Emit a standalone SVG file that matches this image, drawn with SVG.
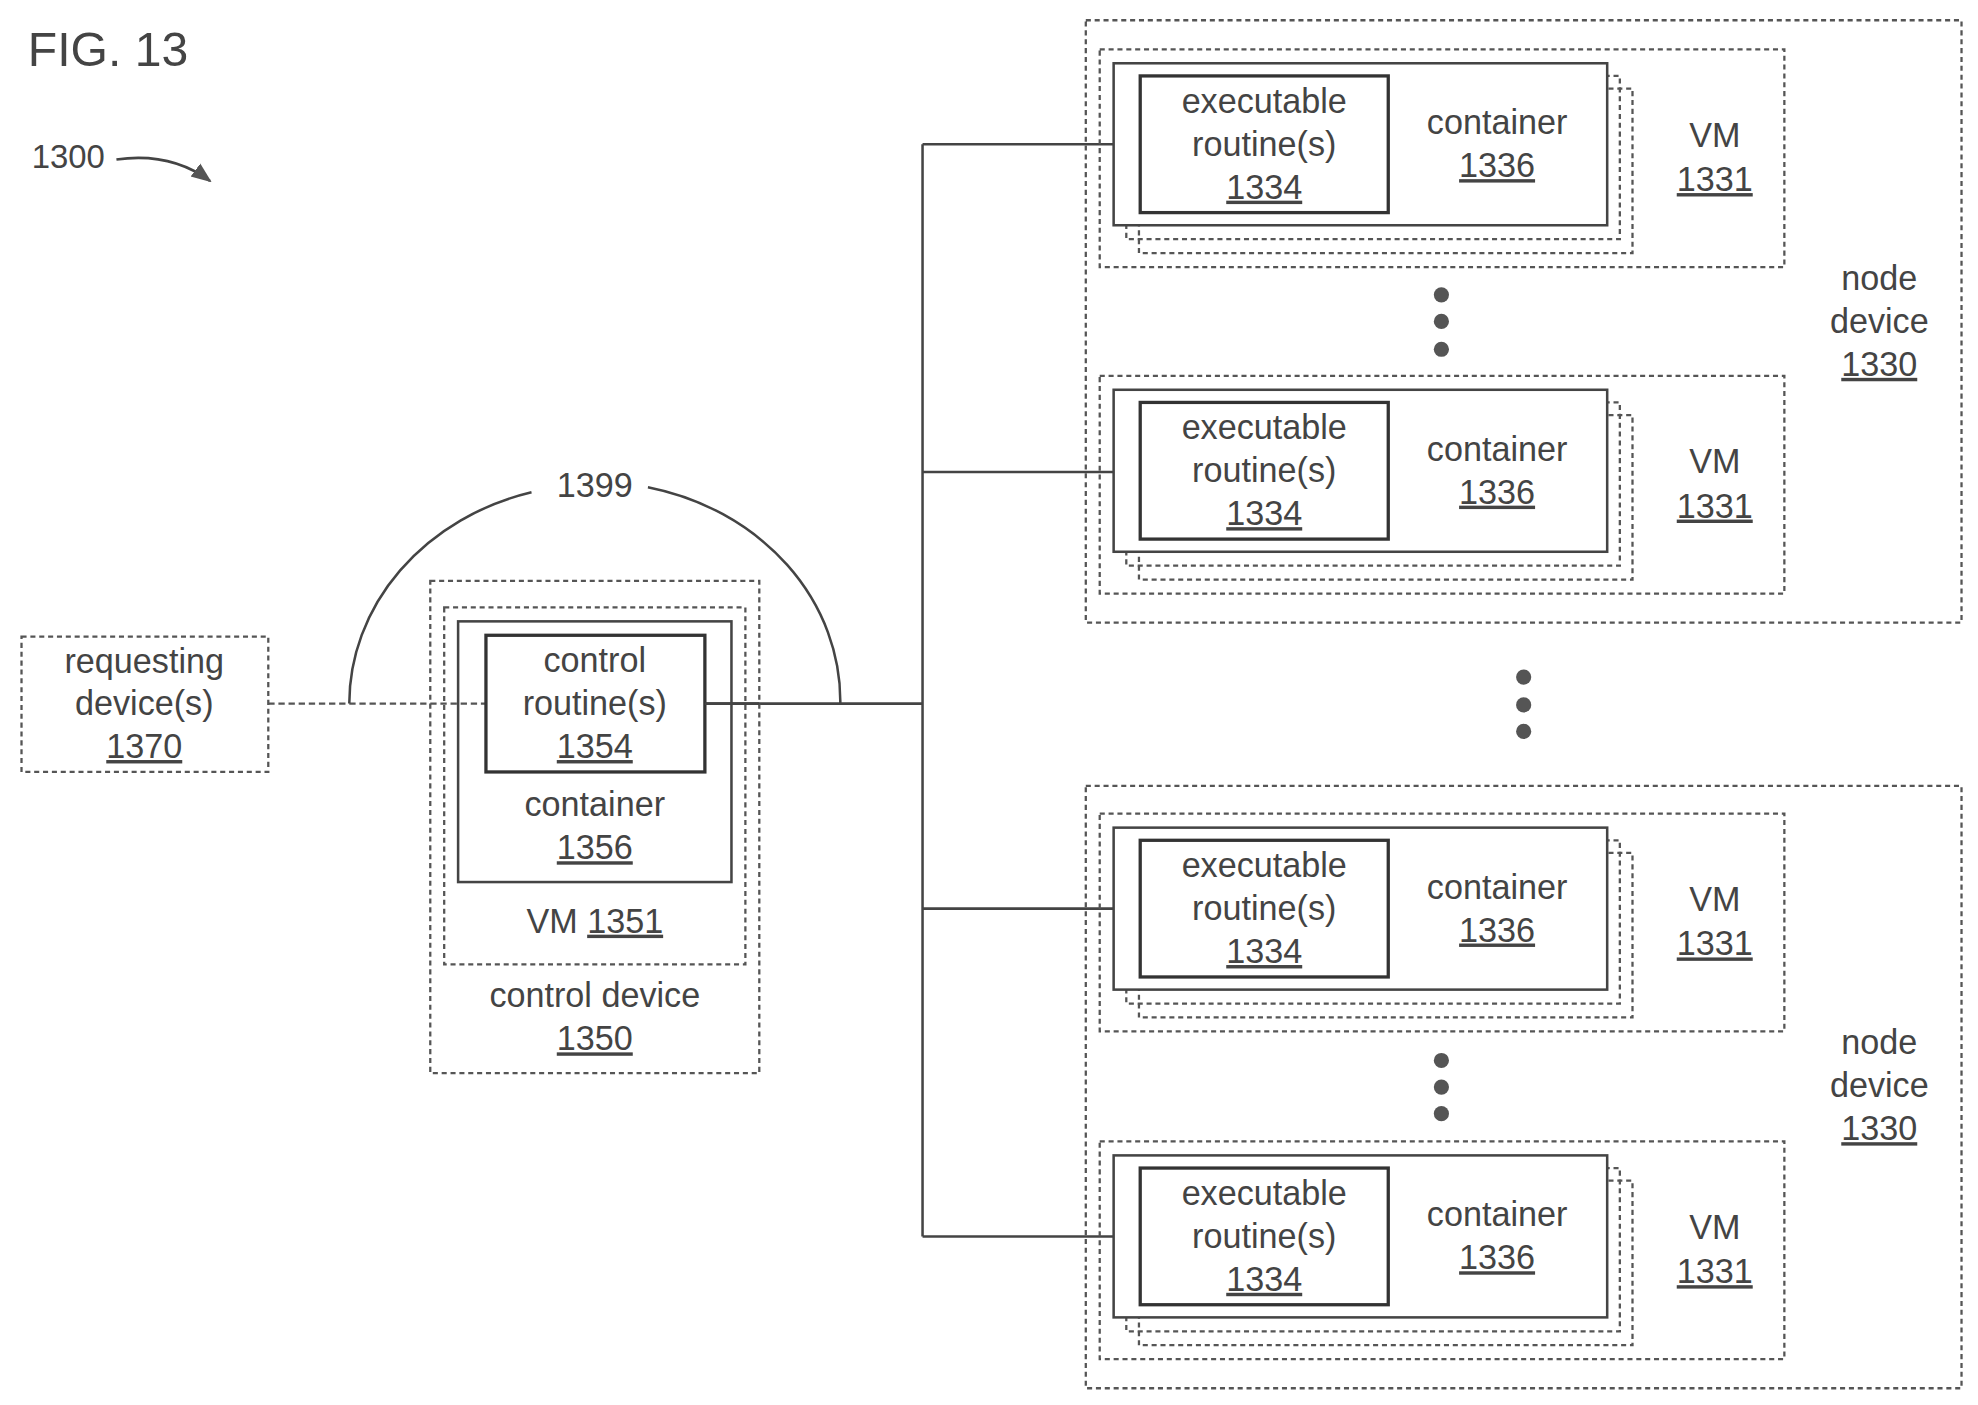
<svg xmlns="http://www.w3.org/2000/svg" width="1978" height="1405" viewBox="0 0 1978 1405">
<defs>
<style>
text{font-family:"Liberation Sans",Arial,sans-serif;font-size:27px;fill:#444;text-anchor:middle}
.d{fill:none;stroke:#555;stroke-width:1.8;stroke-dasharray:4 3}
.s{fill:#fff;stroke:#444;stroke-width:2}
.t{fill:#fff;stroke:#333;stroke-width:2.6}
.l{fill:none;stroke:#444;stroke-width:2}
.u{text-decoration:underline}
.dot{fill:#555}
</style>
<marker id="ah" viewBox="0 0 10 10" refX="9" refY="5" markerWidth="8" markerHeight="8" orient="auto"><path d="M0,1 L10,5 L0,9 z" fill="#555"/></marker>
<g id="vmgroup">
<rect class="d" x="869" y="39" width="541" height="172"/>
<rect class="d" x="900" y="70" width="390" height="130"/>
<rect class="d" x="890" y="60" width="390" height="129"/>
<rect class="s" x="880" y="50" width="390" height="128"/>
<rect class="t" x="901" y="60" width="196" height="108"/>
<text x="999" y="89">executable</text>
<text x="999" y="123">routine(s)</text>
<text x="999" y="157" class="u">1334</text>
<text x="1183" y="106">container</text>
<text x="1183" y="140" class="u">1336</text>
<text x="1355" y="116">VM</text>
<text x="1355" y="151" class="u">1331</text>
</g>
</defs>
<rect width="1978" height="1405" fill="#fff"/>
<g transform="scale(1.2655)">
<text x="22" y="52" style="font-size:38px;text-anchor:start">FIG. 13</text>
<g id="label1300">
<text x="25" y="133" style="font-size:26px;text-anchor:start">1300</text>
<path class="l" d="M92,126 Q135,120 166,143" marker-end="url(#ah)"/>
</g>
<g id="connectors">
<path class="d" d="M212,556 H384" style="stroke-dasharray:5 3"/>
<path class="l" d="M557,556 H729"/>
<path class="l" d="M729,114 V977"/>
<path class="l" d="M729,114 H901 M729,373 H901 M729,718 H901 M729,977 H901"/>
<path class="l" d="M276,556 A194,173 0 0 1 420,389"/>
<path class="l" d="M512,385 A194,173 0 0 1 664,556"/>
<text x="470" y="393">1399</text>
</g>
<g id="requesting">
<rect class="d" x="17" y="503" width="195" height="107"/>
<text x="114" y="532">requesting</text>
<text x="114" y="565">device(s)</text>
<text x="114" y="599" class="u">1370</text>
</g>
<g id="control-device">
<rect class="d" x="340" y="459" width="260" height="389"/>
<rect class="d" x="351" y="480" width="238" height="282"/>
<rect class="s" x="362" y="491" width="216" height="206" style="fill:none"/>
<rect class="t" x="384" y="502" width="173" height="108" style="fill:none"/>
<path class="l" d="M557,556 H600"/>
<text x="470" y="531">control</text>
<text x="470" y="565">routine(s)</text>
<text x="470" y="599" class="u">1354</text>
<text x="470" y="645">container</text>
<text x="470" y="679" class="u">1356</text>
<text x="470" y="737">VM <tspan class="u">1351</tspan></text>
<text x="470" y="796">control device</text>
<text x="470" y="830" class="u">1350</text>
</g>
<g id="node1">
<rect class="d" x="858" y="16" width="692" height="476"/>
<use href="#vmgroup"/>
<use href="#vmgroup" y="258"/>
<circle class="dot" cx="1139" cy="233" r="6"/><circle class="dot" cx="1139" cy="254" r="6"/><circle class="dot" cx="1139" cy="276" r="6"/>
<text x="1485" y="229">node</text>
<text x="1485" y="263">device</text>
<text x="1485" y="297" class="u">1330</text>
</g>
<g id="dots-mid">
<circle class="dot" cx="1204" cy="535" r="6"/><circle class="dot" cx="1204" cy="557" r="6"/><circle class="dot" cx="1204" cy="578" r="6"/>
</g>
<g id="node2">
<rect class="d" x="858" y="621" width="692" height="476"/>
<use href="#vmgroup" y="604"/>
<use href="#vmgroup" y="863"/>
<circle class="dot" cx="1139" cy="838" r="6"/><circle class="dot" cx="1139" cy="859" r="6"/><circle class="dot" cx="1139" cy="880" r="6"/>
<text x="1485" y="833">node</text>
<text x="1485" y="867">device</text>
<text x="1485" y="901" class="u">1330</text>
</g>
</g>
</svg>
